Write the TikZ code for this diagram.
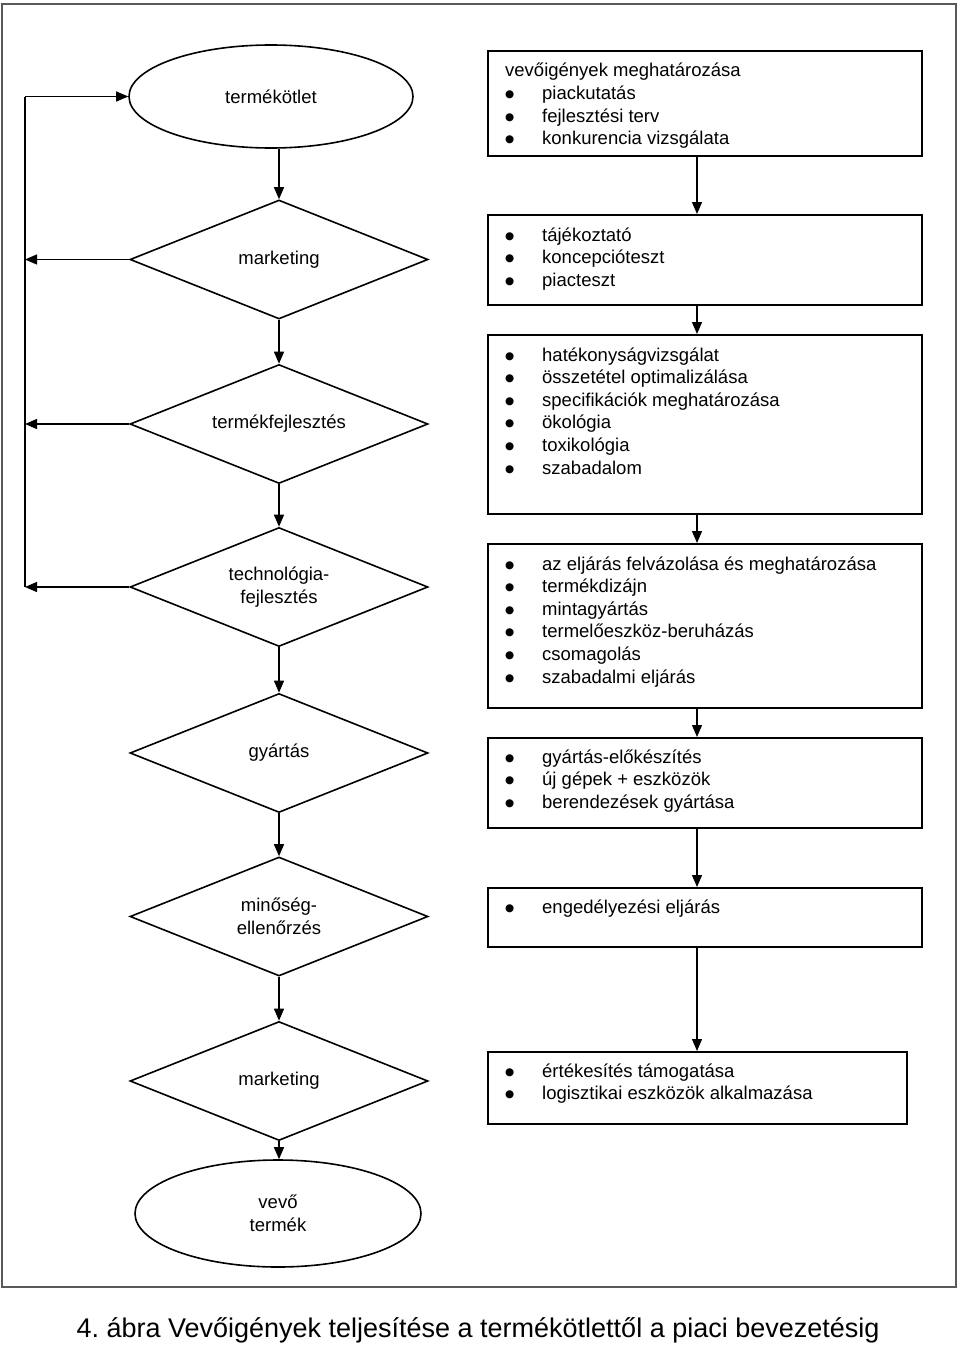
\documentclass[tikz,border=0pt]{standalone}
\usepackage{fontspec}
\setmainfont{Liberation Sans}
\newfontfamily\dejavu{DejaVu Sans}
\usetikzlibrary{shapes.geometric,arrows.meta}
\newcommand\bul{\makebox[37pt][l]{\raisebox{2pt}{\dejavu\fontsize{10.5}{10.5}\selectfont ●}}}
\frenchspacing
\begin{document}
\begin{tikzpicture}[x=1pt,y=-1pt,
 every node/.style={font=\fontsize{18.5}{22.6}\selectfont},
 dia/.style={draw,diamond,aspect=2.5,minimum width=298pt,minimum height=119pt,line width=1.6pt,align=center,inner sep=0pt},
 ell/.style={draw,ellipse,line width=1.6pt,align=center},
 boxn/.style={draw,rectangle,line width=1.6pt,inner sep=0pt,anchor=north west},
 txt/.style={anchor=base west,inner sep=0pt},
 arr/.style={line width=1.3pt,-{Triangle[length=12pt,width=10pt]}},
 ln/.style={line width=1.3pt}]
\useasboundingbox (0,0) rectangle (960,1346);
\draw[black!65, line width=2pt] (1.5,4) rectangle (955.5,1286.5);
% left column
\node[ell,minimum width=284pt,minimum height=103pt] (e1) at (271,96.5) {termékötlet};
\node[dia] (d1) at (279,259.5) {marketing};
\node[dia] (d2) at (279,424) {termékfejlesztés};
\node[dia] (d3) at (279,587) {technológia-\\fejlesztés};
\node[dia] (d4) at (279,753) {gyártás};
\node[dia] (d5) at (279,916.5) {minőség-\\ellenőrzés};
\node[dia] (d6) at (279,1081) {marketing};
\node[ell,minimum width=286pt,minimum height=107pt] (e2) at (278,1213.5) {vevő\\termék};
% right column boxes
\node[boxn,minimum width=434pt,minimum height=105pt] (b1) at (487,50) {};
\node[boxn,minimum width=434pt,minimum height=90pt] (b2) at (487,214) {};
\node[boxn,minimum width=434pt,minimum height=179pt] (b3) at (487,334) {};
\node[boxn,minimum width=434pt,minimum height=164pt] (b4) at (487,543) {};
\node[boxn,minimum width=434pt,minimum height=90pt] (b5) at (487,737) {};
\node[boxn,minimum width=434pt,minimum height=59pt] (b6) at (487,887) {};
\node[boxn,minimum width=419pt,minimum height=72pt] (b7) at (487,1051) {};
\node[txt] (t1) at (505,77) {\begin{tabular}[t]{@{}l@{}}vevőigények meghatározása\\ \bul piackutatás\\ \bul fejlesztési terv\\ \bul konkurencia vizsgálata\end{tabular}};
\node[txt] (t2) at (505,241) {\begin{tabular}[t]{@{}l@{}}\bul tájékoztató\\ \bul koncepcióteszt\\ \bul piacteszt\end{tabular}};
\node[txt] (t3) at (505,361) {\begin{tabular}[t]{@{}l@{}}\bul hatékonyságvizsgálat\\ \bul összetétel optimalizálása\\ \bul specifikációk meghatározása\\ \bul ökológia\\ \bul toxikológia\\ \bul szabadalom\end{tabular}};
\node[txt] (t4) at (505,570) {\begin{tabular}[t]{@{}l@{}}\bul az eljárás felvázolása és meghatározása\\ \bul termékdizájn\\ \bul mintagyártás\\ \bul termelőeszköz-beruházás\\ \bul csomagolás\\ \bul szabadalmi eljárás\end{tabular}};
\node[txt] (t5) at (505,763) {\begin{tabular}[t]{@{}l@{}}\bul gyártás-előkészítés\\ \bul új gépek + eszközök\\ \bul berendezések gyártása\end{tabular}};
\node[txt] (t6) at (505,913) {\begin{tabular}[t]{@{}l@{}}\bul engedélyezési eljárás\end{tabular}};
\node[txt] (t7) at (505,1077) {\begin{tabular}[t]{@{}l@{}}\bul értékesítés támogatása\\ \bul logisztikai eszközök alkalmazása\end{tabular}};
% caption
\node[font=\fontsize{27}{31}\selectfont] (cap) at (478,1330) {4. ábra Vevőigények teljesítése a termékötlettől a piaci bevezetésig};
% connectors
\coordinate (fb) at (25,0);
\coordinate (ax) at (697,0);
\draw[ln] (e1.west -| fb) -- (d3.west -| fb);
\draw[arr] (e1.west -| fb) -- (e1.west);
\draw[arr] (d1.west) -- (d1.west -| fb);
\draw[arr] (d2.west) -- (d2.west -| fb);
\draw[arr] (d3.west) -- (d3.west -| fb);
\draw[arr] (d1.north |- e1.south) -- (d1.north);
\draw[arr] (d1.south) -- (d2.north);
\draw[arr] (d2.south) -- (d3.north);
\draw[arr] (d3.south) -- (d4.north);
\draw[arr] (d4.south) -- (d5.north);
\draw[arr] (d5.south) -- (d6.north);
\draw[arr] (d6.south) -- (d6.south |- e2.north);
\draw[arr] (b1.south -| ax) -- (b2.north -| ax);
\draw[arr] (b2.south -| ax) -- (b3.north -| ax);
\draw[arr] (b3.south -| ax) -- (b4.north -| ax);
\draw[arr] (b4.south -| ax) -- (b5.north -| ax);
\draw[arr] (b5.south -| ax) -- (b6.north -| ax);
\draw[arr] (b6.south -| ax) -- (b7.north -| ax);
\end{tikzpicture}
\end{document}
